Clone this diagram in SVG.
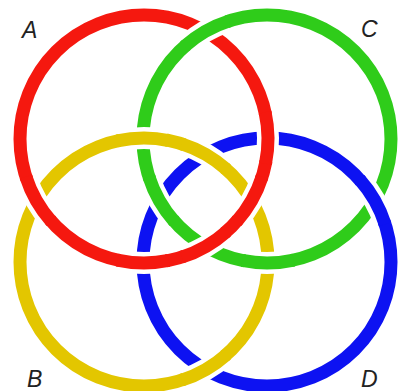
<svg xmlns="http://www.w3.org/2000/svg" width="401" height="391" viewBox="0 0 401 391">
<style>
.ring{fill:none;stroke-width:13}
.halo{fill:none;stroke:#fff;stroke-width:22;stroke-dasharray:0 5 90 100}
.red{stroke:#f5180f}
.green{stroke:#2fcc1a}
.yellow{stroke:#e3c600}
.blue{stroke:#0d12f2}
.lbl{font-family:"Liberation Sans",Arial,sans-serif;font-style:italic;font-size:23px;fill:#222}
</style>
<rect width="401" height="391" fill="#fff"/>
<g id="ringA">
<circle class="ring red" cx="144" cy="139" r="124"/>
<text class="lbl" x="22" y="38">A</text>
</g>
<g id="ringC">
<circle class="ring green" cx="267" cy="139" r="124"/>
<text class="lbl" x="361" y="37">C</text>
</g>
<g id="ringB">
<circle class="ring yellow" cx="144" cy="262" r="124"/>
<text class="lbl" x="27" y="387">B</text>
</g>
<g id="ringD">
<circle class="ring blue" cx="267" cy="262" r="124"/>
<text class="lbl" x="361" y="387">D</text>
</g>
<g id="crossings">
<path class="halo" pathLength="100" d="M184.48,46.45 A124,124 0 0 1 229.24,20.89"/>
<path class="ring green" d="M184.48,46.45 A124,124 0 0 1 229.24,20.89"/>
<path class="halo" pathLength="100" d="M226.52,231.55 A124,124 0 0 1 181.76,257.11"/>
<path class="ring red" d="M226.52,231.55 A124,124 0 0 1 181.76,257.11"/>
<path class="halo" pathLength="100" d="M51.47,221.55 A124,124 0 0 1 25.89,176.76"/>
<path class="ring red" d="M51.47,221.55 A124,124 0 0 1 25.89,176.76"/>
<path class="halo" pathLength="100" d="M262.11,176.76 A124,124 0 0 1 236.53,221.55"/>
<path class="ring red" d="M262.11,176.76 A124,124 0 0 1 236.53,221.55"/>
<path class="halo" pathLength="100" d="M265.08,112.25 A124,124 0 0 1 265.49,163.81"/>
<path class="ring red" d="M265.08,112.25 A124,124 0 0 1 265.49,163.81"/>
<path class="halo" pathLength="100" d="M168.80,260.49 A124,124 0 0 1 117.24,260.08"/>
<path class="ring red" d="M168.80,260.49 A124,124 0 0 1 117.24,260.08"/>
<path class="halo" pathLength="100" d="M117.24,140.92 A124,124 0 0 1 168.80,140.51"/>
<path class="ring yellow" d="M117.24,140.92 A124,124 0 0 1 168.80,140.51"/>
<path class="halo" pathLength="100" d="M293.76,260.08 A124,124 0 0 1 242.20,260.49"/>
<path class="ring green" d="M293.76,260.08 A124,124 0 0 1 242.20,260.49"/>
<path class="halo" pathLength="100" d="M174.47,221.55 A124,124 0 0 1 148.89,176.76"/>
<path class="ring green" d="M174.47,221.55 A124,124 0 0 1 148.89,176.76"/>
<path class="halo" pathLength="100" d="M359.53,179.45 A124,124 0 0 1 385.11,224.24"/>
<path class="ring blue" d="M359.53,179.45 A124,124 0 0 1 385.11,224.24"/>
<path class="halo" pathLength="100" d="M181.76,143.89 A124,124 0 0 1 226.52,169.45"/>
<path class="ring yellow" d="M181.76,143.89 A124,124 0 0 1 226.52,169.45"/>
<path class="halo" pathLength="100" d="M226.52,354.55 A124,124 0 0 1 181.76,380.11"/>
<path class="ring yellow" d="M226.52,354.55 A124,124 0 0 1 181.76,380.11"/>
</g>
</svg>
